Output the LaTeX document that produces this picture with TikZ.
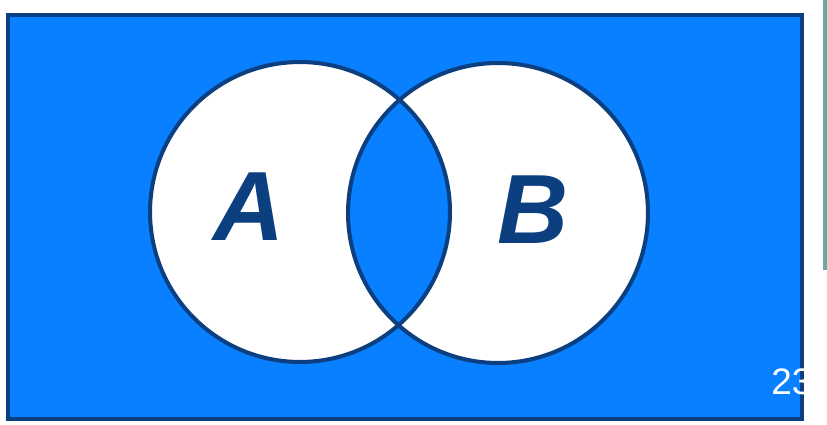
\documentclass[tikz,border=0pt]{standalone}
\usepackage{fontspec}
\setmainfont{Liberation Sans}
\definecolor{setblue}{HTML}{0880FF}
\definecolor{navy}{HTML}{0B3F80}
\definecolor{edge}{HTML}{6AAA9E}
\usepackage{tikz}
\usetikzlibrary{positioning}

\begin{document}
\begin{tikzpicture}[
    x=0.02cm, y=-0.02cm,
    frame/.style={fill=setblue, draw=navy, line width=2.4pt},
    setline/.style={draw=navy, line width=2.3pt},
    setlabel/.style={text=navy, inner sep=0pt,
        font=\fontsize{56}{60}\selectfont\bfseries\itshape},
    pagenum/.style={text=white, inner sep=0pt, anchor=base west,
        font=\fontsize{21}{24}\selectfont}
]
\useasboundingbox (0,0) rectangle (827,425);
\fill[edge] (823,0) rectangle (827,270);
\draw[frame] (8,15) rectangle (802,419);

\coordinate (cA) at (300,212);
\coordinate (cB) at (498,213);
\fill[white] (cA) circle[radius=3cm];
\fill[white] (cB) circle[radius=3cm];
\begin{scope}
    \clip (cA) circle[radius=3cm];
    \fill[setblue] (cB) circle[radius=3cm];
\end{scope}
\draw[setline] (cA) circle[radius=3cm];
\draw[setline] (cB) circle[radius=3cm];

\node[setlabel] (A) at (249,207) {A};
\node[setlabel] (B) at (533,210) {B};
\node[pagenum] (num) at (771,394) {23};
\end{tikzpicture}
\end{document}
